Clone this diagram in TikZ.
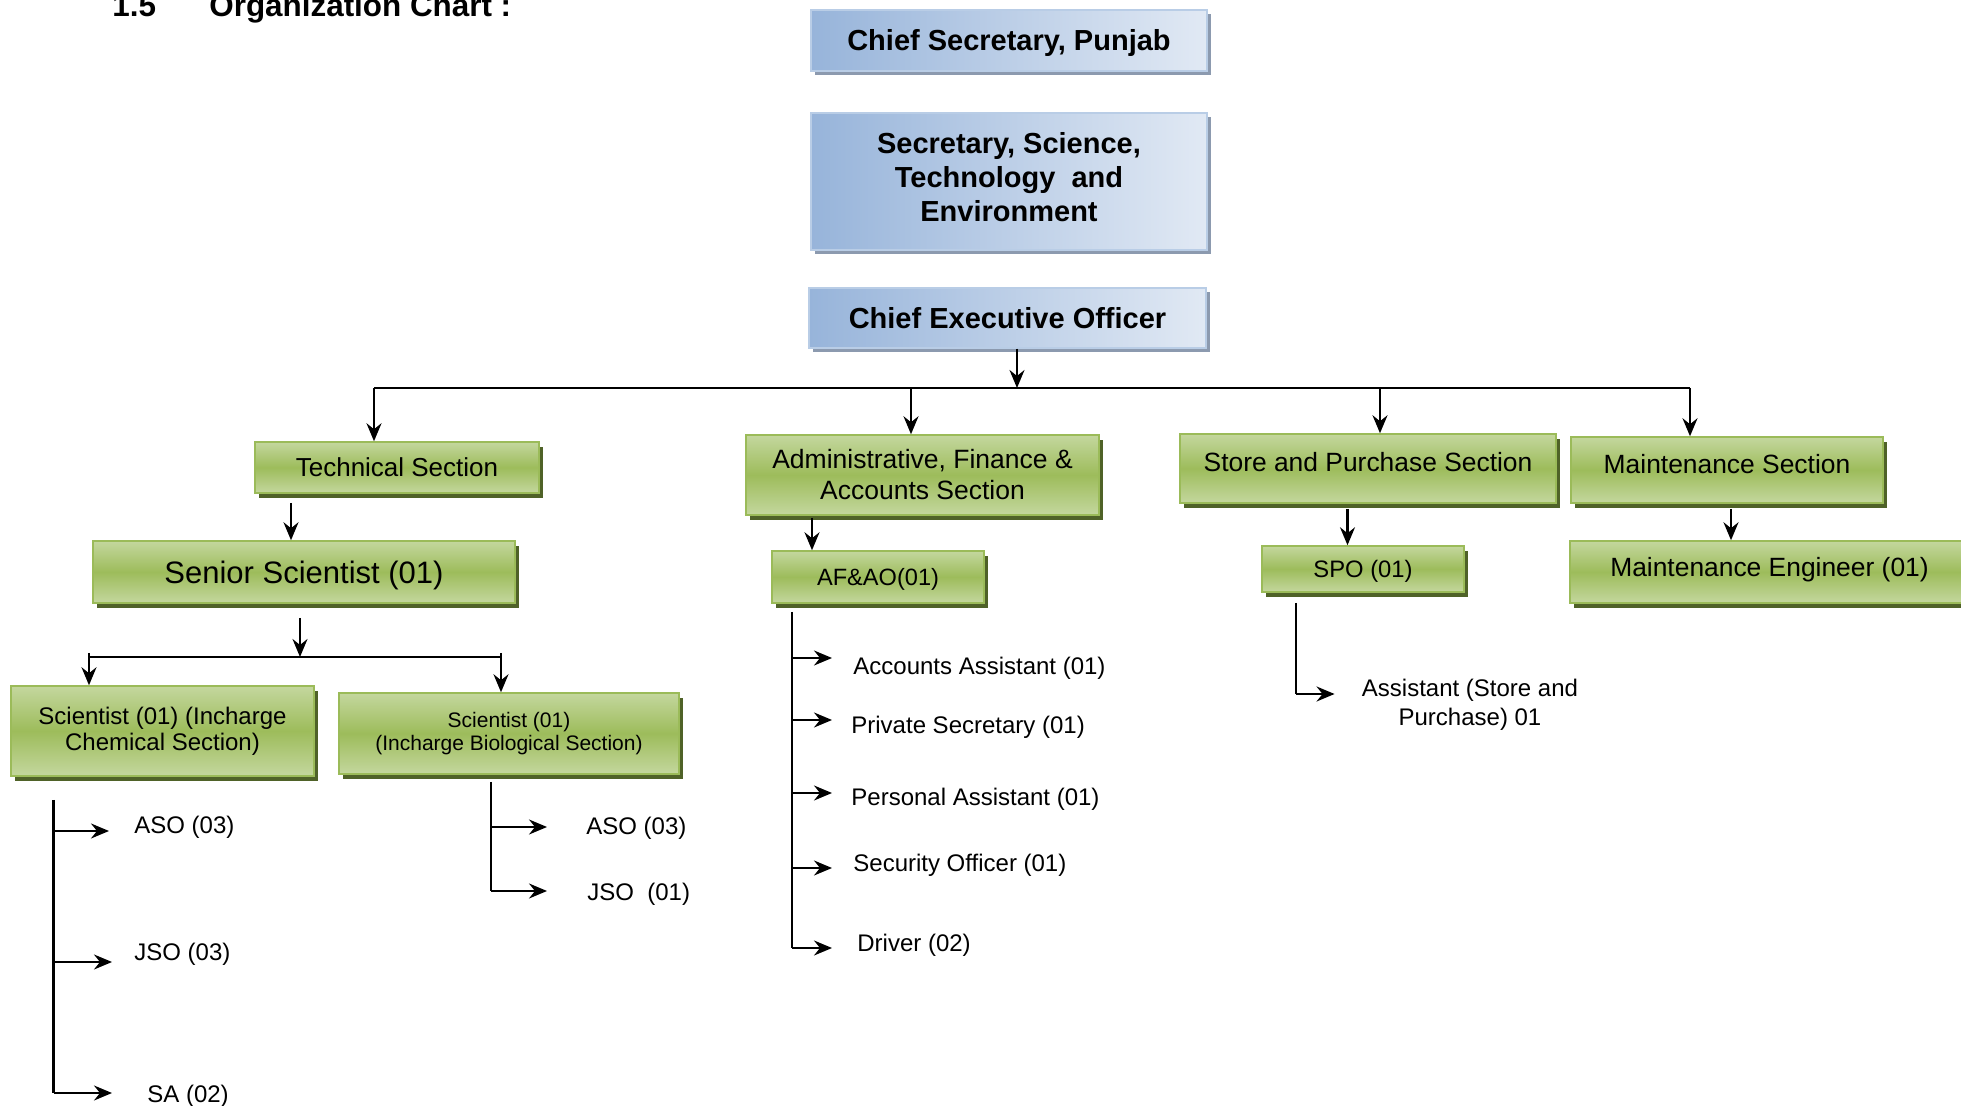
\documentclass[tikz,border=0pt]{standalone}
\usepackage{fontspec}
\setmainfont{Liberation Sans}
\usetikzlibrary{arrows.meta,shadows}
\definecolor{blueL}{HTML}{97B4DA}
\definecolor{blueR}{HTML}{E1E9F4}
\definecolor{blueB}{HTML}{B9CDE6}
\definecolor{blueS}{HTML}{8C9AAF}
\definecolor{greenL}{HTML}{C4D79E}
\definecolor{greenM}{HTML}{9DBC5B}
\definecolor{greenB}{HTML}{9BBB59}
\definecolor{greenS}{HTML}{4F6228}
\begin{document}
\begin{tikzpicture}[x=0.5pt,y=-0.5pt,
 conn/.style={line width=1.1pt},
 arr/.style={line width=1.1pt,-{Stealth[length=9pt,width=7.5pt,inset=3pt]}},
 bluebox/.style={draw=blueB,line width=0.75pt,left color=blueL,right color=blueR,
   drop shadow={shadow xshift=2pt,shadow yshift=-2pt,fill=blueS,opacity=1},
   inner sep=0pt,font=\bfseries\fontsize{14.5pt}{17.5pt}\selectfont},
 greenbox/.style={draw=greenB,line width=0.75pt,top color=greenL,bottom color=greenL,middle color=greenM,
   drop shadow={shadow xshift=1.75pt,shadow yshift=-2.5pt,fill=greenS,opacity=1},
   inner sep=0pt},
 capht/.style={text height=#1,text depth=0pt},
 item/.style={anchor=west,inner sep=0pt,font=\fontsize{12pt}{14.5pt}\selectfont,text height=8.6pt,text depth=0pt},
 titlef/.style={anchor=base west,inner sep=0pt,font=\bfseries\fontsize{15.7pt}{18pt}\selectfont}
]
\useasboundingbox (0,0) rectangle (1961,1106);

% title
\node[titlef] (num) at (112,17) {1.5};
\node[titlef] (title) at (209,17) {Organization Chart :};

% blue boxes
\node[bluebox,minimum width=198pt,minimum height=30.5pt,capht=10.4pt] (cs) at (1009,40.5) {Chief Secretary, Punjab};
\node[bluebox,minimum width=198pt,minimum height=68.5pt,align=center,text depth=5pt,font=\bfseries\fontsize{14.5pt}{17pt}\selectfont] (sec) at (1009,181.5) {Secretary, Science,\\Technology\ \ and\\Environment};
\node[bluebox,minimum width=198.5pt,minimum height=30pt,capht=10.4pt] (ceo) at (1007.5,318) {Chief Executive Officer};

% green boxes
\node[greenbox,minimum width=142pt,minimum height=25.5pt,capht=9.3pt,font=\fontsize{13pt}{15pt}\selectfont] (tech) at (397,467.5) {Technical Section};
\node[greenbox,minimum width=211pt,minimum height=31pt,capht=11.1pt,font=\fontsize{15.5pt}{18pt}\selectfont] (senior) at (304,572) {Senior Scientist (01)};
\node[greenbox,minimum width=176.5pt,minimum height=40pt,align=center,font=\fontsize{13.25pt}{15.5pt}\selectfont] (admin) at (922.5,475) {Administrative, Finance \&\\Accounts Section};
\node[greenbox,minimum width=106pt,minimum height=26pt,capht=8.45pt,font=\fontsize{11.8pt}{14pt}\selectfont] (afao) at (878,577) {AF\&AO(01)};
\node[greenbox,minimum width=188pt,minimum height=34.5pt,text height=9.45pt,text depth=6.5pt,font=\fontsize{13.2pt}{15pt}\selectfont] (store) at (1368,468.5) {Store and Purchase Section};
\node[greenbox,minimum width=156pt,minimum height=33pt,text height=9.45pt,text depth=6pt,font=\fontsize{13.2pt}{15pt}\selectfont] (maint) at (1727,470) {Maintenance Section};
\node[greenbox,minimum width=101pt,minimum height=23pt,capht=8.5pt,font=\fontsize{11.9pt}{14pt}\selectfont] (spo) at (1363,569) {SPO (01)};
\node[greenbox,minimum width=199.5pt,minimum height=31pt,text height=9.45pt,text depth=5pt,font=\fontsize{13.2pt}{15pt}\selectfont] (meng) at (1769.5,572) {Maintenance Engineer (01)};
\node[greenbox,minimum width=151.5pt,minimum height=45pt,align=center,font=\fontsize{12pt}{13pt}\selectfont] (chem) at (162.5,731) {Scientist (01) (Incharge\\Chemical Section)};
\node[greenbox,minimum width=170pt,minimum height=40.5pt,align=center,font=\fontsize{10.5pt}{11.5pt}\selectfont] (bio) at (509,733.5) {Scientist (01)\\(Incharge Biological Section)};

% main bus
\coordinate (bus) at (1017,388);
\coordinate (busL) at (374,388);
\coordinate (busR) at (1690,388);
\coordinate (busA) at (911,388);
\coordinate (busS) at (1380,388);
\draw[arr] (ceo.south -| bus) -- (bus);
\draw[line width=1.3pt] (busL) -- (busR);
\draw[arr] (busL) -- (busL |- tech.north);
\draw[arr] (busA) -- (busA |- admin.north);
\draw[arr] (busS) -- (busS |- store.north);
\draw[arr] (busR) -- (busR |- maint.north);

% technical branch
\coordinate (t2s) at (291,503);
\draw[arr] (t2s) -- (t2s |- senior.north);
\coordinate (s2b) at (300,618);
\coordinate (brc) at (300,657);
\draw[arr] (s2b) -- (brc);
\coordinate (brL) at (89,657);
\coordinate (brR) at (501,657);
\draw[conn] (brL) -- (brR);
\draw[arr] ([yshift=2pt]brL) -- (brL |- chem.north);
\draw[arr] ([yshift=2pt]brR) -- (brR |- bio.north);

% other section arrows
\coordinate (a2f) at (812,518);
\draw[arr] (a2f) -- (a2f |- afao.north);
\coordinate (s2p) at (1347.5,509);
\draw[arr] (s2p) -- (s2p |- spo.north);
\coordinate (m2e) at (1731,509);
\draw[arr] (m2e) -- (m2e |- meng.north);

% chemical list
\coordinate (ct) at (53.5,800);
\coordinate (cb) at (53.5,1093);
\draw[conn] (ct) -- (cb);
\node[item] (aso1) at (134,825) {ASO (03)};
\node[item] (jso1) at (134,952) {JSO (03)};
\node[item] (sa1) at (147,1094) {SA (02)};
\coordinate (c1) at (53.5,831);
\coordinate (c2) at (53.5,962);
\draw[arr,shorten >=12.5pt] (c1) -- (c1 -| aso1.west);
\draw[arr,shorten >=11pt] (c2) -- (c2 -| jso1.west);
\draw[arr,shorten >=17.5pt] (cb) -- (cb -| sa1.west);

% biological list
\coordinate (bt) at (491,782);
\coordinate (bb) at (491,891);
\draw[conn] (bt) -- (bb);
\node[item] (aso2) at (586,826) {ASO (03)};
\node[item] (jso2) at (587,892) {JSO\ \ (01)};
\coordinate (b1) at (491,827);
\draw[arr,shorten >=19.5pt] (b1) -- (b1 -| aso2.west);
\draw[arr,shorten >=20pt] (bb) -- (bb -| jso2.west);

% admin list
\coordinate (ft) at (792,612);
\coordinate (fb) at (792,948);
\draw[conn] (ft) -- (fb);
\node[item] (aa) at (853,666) {Accounts Assistant (01)};
\node[item] (ps) at (851,725) {Private Secretary (01)};
\node[item] (pa) at (851,797) {Personal Assistant (01)};
\node[item] (so) at (853,863) {Security Officer (01)};
\node[item] (dr) at (857,943) {Driver (02)};
\coordinate (f1) at (792,658);
\coordinate (f2) at (792,720);
\coordinate (f3) at (792,793);
\coordinate (f4) at (792,868);
\draw[arr,shorten >=10.5pt] (f1) -- (f1 -| aa.west);
\draw[arr,shorten >=9.5pt] (f2) -- (f2 -| ps.west);
\draw[arr,shorten >=9.5pt] (f3) -- (f3 -| pa.west);
\draw[arr,shorten >=10.5pt] (f4) -- (f4 -| so.west);
\draw[arr,shorten >=12.5pt] (fb) -- (fb -| dr.west);

% store list
\coordinate (pt) at (1296,603);
\coordinate (pb) at (1296,694);
\draw[conn] (pt) -- (pb);
\node[inner sep=0pt,align=center,font=\fontsize{12pt}{14.5pt}\selectfont] (asst) at (1470,705) {Assistant (Store and\\Purchase) 01};
\draw[arr,shorten >=13.5pt] (pb) -- (pb -| asst.west);
\end{tikzpicture}
\end{document}
